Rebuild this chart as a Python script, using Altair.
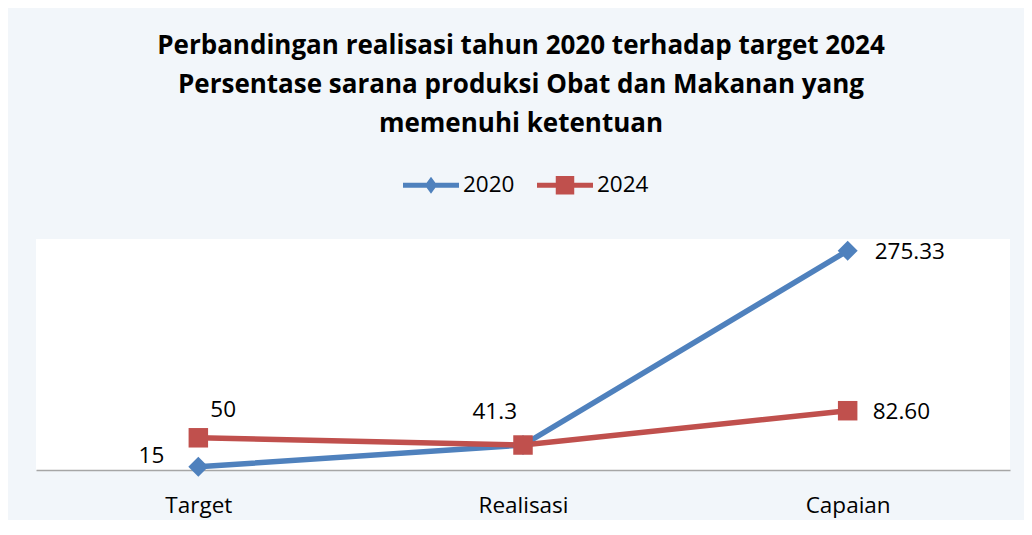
import altair as alt
import pandas as pd

categories = ["Target", "Realisasi", "Capaian"]
series_names = ["2020", "2024"]
values_2020 = [15, 41.3, 275.33]
values_2024 = [50, 41.3, 82.60]
labels_2020 = ["15", "", "275.33"]
labels_2024 = ["50", "41.3", "82.60"]
title_lines = [
    "Perbandingan realisasi tahun 2020 terhadap target 2024",
    "Persentase sarana produksi Obat dan Makanan yang",
    "memenuhi ketentuan",
]

rows = []
for s, vals, labs in [("2020", values_2020, labels_2020), ("2024", values_2024, labels_2024)]:
    for c, v, l in zip(categories, vals, labs):
        rows.append({"category": c, "series": s, "value": v, "label": l})
df = pd.DataFrame(rows)

FONT = "Open Sans"
BLUE = "#4F81BD"
RED = "#C0504D"
FS = 22.5

x = alt.X("category:N", sort=categories,
          scale=alt.Scale(paddingInner=0, paddingOuter=0),
          axis=alt.Axis(title=None, labelAngle=0, ticks=False, labelPadding=24,
                        labelFont=FONT, labelFontSize=FS, labelColor="#000000",
                        domainColor="#A6A6A6", domainWidth=1.5, grid=False))
y = alt.Y("value:Q", scale=alt.Scale(domain=[11.2, 289.4], nice=False, zero=False),
          axis=None)

color_scale = alt.Scale(domain=series_names, range=[BLUE, RED])
legend_spec = alt.Legend(title=None, orient="none", direction="horizontal",
                         legendX=367, legendY=-82,
                         labelFont=FONT, labelFontSize=FS, labelColor="#000000",
                         symbolSize=3136, symbolStrokeWidth=0, symbolOpacity=1,
                         labelOffset=4, columnPadding=22)

path_2020 = "M-1,-0.09L1,-0.09L1,0.09L-1,0.09Z M0,-0.3L0.22,0L0,0.3L-0.22,0Z"
path_2024 = "M-1,-0.09L1,-0.09L1,0.09L-1,0.09Z M-0.33,-0.33L0.33,-0.33L0.33,0.33L-0.33,0.33Z"

base = alt.Chart(df)

legend_layer = base.mark_point(filled=True, opacity=0).encode(
    x=x, y=y,
    color=alt.Color("series:N", scale=color_scale, legend=legend_spec),
    shape=alt.Shape("series:N", scale=alt.Scale(domain=series_names, range=[path_2020, path_2024]),
                    legend=legend_spec),
)

lines = base.mark_line(strokeWidth=5.5).encode(
    x=x, y=y, color=alt.Color("series:N", scale=color_scale), detail="series:N"
)

pts_2020 = base.transform_filter(alt.datum.series == "2020").mark_point(
    filled=True, shape="diamond", size=400, opacity=1
).encode(x=x, y=y, color=alt.Color("series:N", scale=color_scale))

pts_2024 = base.transform_filter(alt.datum.series == "2024").mark_point(
    filled=True, shape="square", size=380, opacity=1
).encode(x=x, y=y, color=alt.Color("series:N", scale=color_scale))

label_styles = {
    ("Target", "2020"): dict(align="right", dx=-34, dy=-11),
    ("Target", "2024"): dict(align="left", dx=12, dy=-28),
    ("Realisasi", "2024"): dict(align="right", dx=-6, dy=-33),
    ("Capaian", "2020"): dict(align="left", dx=27, dy=1),
    ("Capaian", "2024"): dict(align="left", dx=25, dy=1),
}
label_layers = []
for (cat, ser), st in label_styles.items():
    label_layers.append(
        base.transform_filter((alt.datum.category == cat) & (alt.datum.series == ser))
        .mark_text(font=FONT, fontSize=FS, color="#000000", baseline="middle", **st)
        .encode(x=x, y=y, text="label:N")
    )

chart = alt.layer(legend_layer, lines, pts_2020, pts_2024, *label_layers).properties(
    width=974, height=231,
    background="#F2F6FA",
    padding={"left": 28, "top": 231, "right": 14, "bottom": 50},
    autosize=alt.AutoSizeParams(type="none"),
    title=alt.TitleParams(text=title_lines, font=FONT, fontSize=26, fontWeight="bold",
                          color="#000000", anchor="middle", lineHeight=39, offset=20, dx=-2),
).configure_view(fill="#FFFFFF", stroke=None)

chart.save("out.html", embed_options={"renderer": "svg", "actions": False})
